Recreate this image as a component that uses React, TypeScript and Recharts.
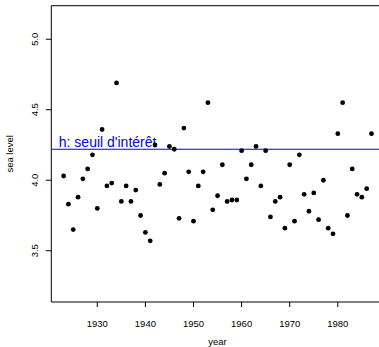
import React from 'react';
import { ScatterChart, Scatter, XAxis, YAxis, ReferenceLine, ReferenceArea } from 'recharts';

const years = [
  1923, 1924, 1925, 1926, 1927, 1928, 1929, 1930, 1931, 1932, 1933, 1934, 1935,
  1936, 1937, 1938, 1939, 1940, 1941, 1942, 1943, 1944, 1945, 1946, 1947, 1948,
  1949, 1950, 1951, 1952, 1953, 1954, 1955, 1956, 1957, 1958, 1959, 1960, 1961,
  1962, 1963, 1964, 1965, 1966, 1967, 1968, 1969, 1970, 1971, 1972, 1973, 1974,
  1975, 1976, 1977, 1978, 1979, 1980, 1981, 1982, 1983, 1984, 1985, 1986, 1987,
];
const seaLevels = [
  4.03, 3.83, 3.65, 3.88, 4.01, 4.08, 4.18, 3.8, 4.36, 3.96, 3.98, 4.69, 3.85,
  3.96, 3.85, 3.93, 3.75, 3.63, 3.57, 4.25, 3.97, 4.05, 4.24, 4.22, 3.73, 4.37,
  4.06, 3.71, 3.96, 4.06, 4.55, 3.79, 3.89, 4.11, 3.85, 3.86, 3.86, 4.21, 4.01,
  4.11, 4.24, 3.96, 4.21, 3.74, 3.85, 3.88, 3.66, 4.11, 3.71, 4.18, 3.9, 3.78,
  3.91, 3.72, 4.0, 3.66, 3.62, 4.33, 4.55, 3.75, 4.08, 3.9, 3.88, 3.94, 4.33,
];
const xTicks = [1930, 1940, 1950, 1960, 1970, 1980];
const yTicks = [3.5, 4.0, 4.5, 5.0];
const threshold = 4.22;
const thresholdLabel = "h: seuil d'intérêt";
const xLabel = 'year';
const yLabel = 'sea level';

const xDomain = [1920.44, 1989.56];
const yDomain = [3.1364, 5.238];

const data = years.map((y, i) => ({ year: y, level: seaLevels[i] }));

const FONT = '"Liberation Sans", Arial, Helvetica, sans-serif';

const XTick = (props: any) => {
  const { x, y, payload } = props;
  return (
    <text x={x} y={y + 17.5} textAnchor="middle" fontSize={9.5} fontFamily={FONT} fill="#000">
      {String(payload.value)}
    </text>
  );
};

const YTick = (props: any) => {
  const { y, payload } = props;
  const bx = 38.5;
  return (
    <text
      x={bx}
      y={y}
      transform={`rotate(-90 ${bx} ${y})`}
      textAnchor="middle"
      fontSize={9.5}
      fontFamily={FONT}
      fill="#000"
    >
      {Number(payload.value).toFixed(1)}
    </text>
  );
};

const XLabelContent = (props: any) => {
  const vb = props.viewBox;
  return (
    <text x={vb.x + vb.width / 2} y={345} textAnchor="middle" fontSize={9.5} fontFamily={FONT} fill="#000">
      {xLabel}
    </text>
  );
};

const YLabelContent = (props: any) => {
  const vb = props.viewBox;
  const cx = 13.5;
  const cy = vb.y + vb.height / 2;
  return (
    <text
      x={cx}
      y={cy}
      transform={`rotate(-90 ${cx} ${cy})`}
      textAnchor="middle"
      fontSize={9.5}
      fontFamily={FONT}
      fill="#000"
    >
      {yLabel}
    </text>
  );
};

const ThresholdLabel = (props: any) => {
  const vb = props.viewBox;
  return (
    <text x={vb.x + 7.5} y={vb.y - 2} fontSize={14} fontFamily={FONT} fill="#0000FF">
      {thresholdLabel}
    </text>
  );
};

const Dot = (props: any) => {
  const { cx, cy } = props;
  return <circle cx={cx} cy={cy} r={2.4} fill="#000" />;
};

export default function App() {
  return (
    <div
      style={{
        position: 'absolute',
        left: 0,
        top: 0,
        width: 379,
        height: 347,
        overflow: 'hidden',
        background: '#fff',
      }}
    >
      <ScatterChart width={395} height={347} margin={{ top: 5.7, right: 11.2, left: 0, bottom: 0 }}>
        <XAxis
          dataKey="year"
          type="number"
          domain={xDomain}
          allowDataOverflow
          ticks={xTicks}
          axisLine={false}
          tickLine={{ stroke: '#000' }}
          tickSize={5}
          height={45}
          tick={<XTick />}
          label={{ content: <XLabelContent /> }}
        />
        <YAxis
          dataKey="level"
          type="number"
          domain={yDomain}
          allowDataOverflow
          ticks={yTicks}
          axisLine={false}
          tickLine={{ stroke: '#000' }}
          tickSize={5.5}
          width={51.3}
          tick={<YTick />}
          label={{ content: <YLabelContent /> }}
        />
        <ReferenceArea
          x1={xDomain[0]}
          x2={xDomain[1]}
          y1={yDomain[0]}
          y2={yDomain[1]}
          fill="none"
          stroke="#000"
          strokeWidth={1}
          ifOverflow="visible"
        />
        <ReferenceLine
          y={threshold}
          stroke="#0000FF"
          strokeWidth={1.2}
          label={<ThresholdLabel />}
        />
        <Scatter data={data} shape={<Dot />} isAnimationActive={false} />
      </ScatterChart>
    </div>
  );
}
